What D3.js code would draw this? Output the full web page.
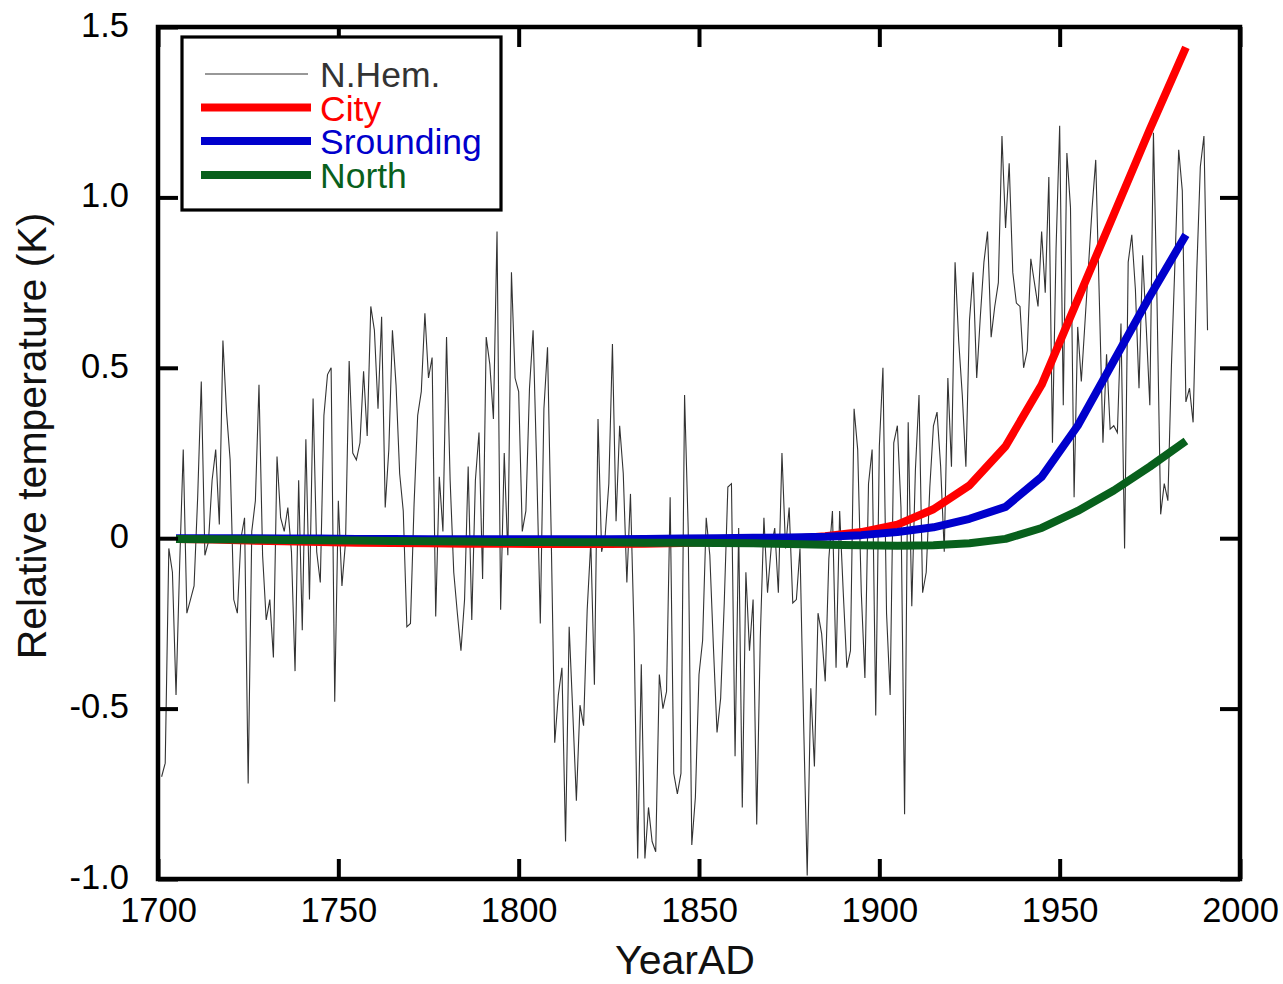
<!DOCTYPE html>
<html>
<head>
<meta charset="utf-8">
<script src="https://cdn.jsdelivr.net/npm/d3@7"></script>
<style>
  body { margin: 0; background: #fff; }
  svg { display: block; font-family: "Liberation Sans", Arial, sans-serif; }
</style>
</head>
<body>
<div id="chart"></div>
<script>
// N.Hem. annual anomalies, 1701..1991
const nhemStart = 1701;
const nhemValues = [
  -0.70, -0.66, -0.03, -0.10, -0.46, -0.08, 0.26, -0.22, -0.18, -0.14,
  0.12, 0.46, -0.05, -0.01, 0.17, 0.26, 0.04, 0.58, 0.37, 0.23,
  -0.18, -0.22, 0.00, 0.06, -0.72, 0.02, 0.11, 0.45, -0.05, -0.24,
  -0.18, -0.35, 0.24, 0.06, 0.02, 0.09, -0.04, -0.39, 0.17, -0.27,
  0.29, -0.18, 0.41, -0.04, -0.13, 0.36, 0.48, 0.50, -0.48, 0.11,
  -0.14, -0.01, 0.52, 0.25, 0.23, 0.28, 0.49, 0.30, 0.68, 0.61,
  0.38, 0.65, 0.09, 0.26, 0.61, 0.45, 0.19, 0.08, -0.26, -0.25,
  0.10, 0.36, 0.43, 0.66, 0.47, 0.53, -0.23, 0.18, 0.02, 0.59,
  0.17, -0.10, -0.22, -0.33, -0.18, 0.21, -0.24, 0.17, 0.31, -0.12,
  0.59, 0.51, 0.35, 0.90, -0.21, 0.25, -0.05, 0.78, 0.47, 0.43,
  0.02, 0.08, 0.44, 0.61, 0.21, -0.25, 0.38, 0.56, 0.02, -0.60,
  -0.46, -0.38, -0.89, -0.26, -0.51, -0.77, -0.49, -0.55, -0.21, -0.01,
  -0.43, 0.35, -0.04, 0.01, 0.16, 0.57, 0.05, 0.33, 0.19, -0.13,
  0.13, -0.28, -0.94, -0.37, -0.94, -0.79, -0.89, -0.92, -0.40, -0.50,
  -0.45, 0.12, -0.69, -0.75, -0.69, 0.42, 0.03, -0.90, -0.76, -0.40,
  -0.30, 0.06, -0.05, -0.32, -0.57, -0.47, -0.19, 0.15, 0.16, -0.64,
  0.03, -0.79, -0.10, -0.33, -0.18, -0.84, -0.29, 0.06, -0.16, -0.03,
  0.03, -0.16, 0.25, -0.03, 0.09, -0.19, -0.18, -0.03, -0.54, -0.99,
  -0.44, -0.67, -0.22, -0.28, -0.42, -0.06, 0.08, -0.38, 0.08, -0.16,
  -0.38, -0.33, 0.38, 0.26, -0.16, -0.41, 0.16, 0.26, -0.52, 0.27,
  0.50, -0.22, -0.46, 0.28, 0.33, 0.09, -0.81, 0.34, -0.20, 0.20,
  0.42, -0.16, -0.10, 0.15, 0.33, 0.37, 0.21, -0.04, 0.47, 0.21,
  0.81, 0.58, 0.42, 0.21, 0.64, 0.78, 0.47, 0.65, 0.81, 0.90,
  0.59, 0.68, 0.75, 1.18, 0.91, 1.10, 0.78, 0.69, 0.68, 0.50,
  0.55, 0.82, 0.75, 0.68, 0.90, 0.72, 1.06, 0.28, 0.85, 1.21,
  0.39, 1.13, 0.97, 0.12, 0.62, 0.46, 0.63, 0.80, 0.97, 1.11,
  0.70, 0.28, 0.54, 0.32, 0.33, 0.31, 0.63, -0.03, 0.81, 0.89,
  0.73, 0.44, 0.83, 0.62, 0.39, 1.19, 0.69, 0.07, 0.16, 0.11,
  0.51, 0.82, 1.14, 1.02, 0.40, 0.44, 0.34, 0.78, 1.09, 1.18,
  0.61
];
const nhemYears = nhemValues.map((_, i) => nhemStart + i);

// smooth model curves, one point per decade
const curveYears = [1705, 1715, 1725, 1735, 1745, 1755, 1765, 1775, 1785, 1795,
  1805, 1815, 1825, 1835, 1845, 1855, 1865, 1875, 1885, 1895,
  1905, 1915, 1925, 1935, 1945, 1955, 1965, 1975, 1985];
const cityValues = [-0.002, -0.004, -0.007, -0.009, -0.011, -0.013, -0.014, -0.015, -0.016, -0.016,
  -0.017, -0.017, -0.017, -0.016, -0.014, -0.011, -0.007, -0.002, 0.006, 0.018,
  0.040, 0.085, 0.155, 0.27, 0.45, 0.70, 0.95, 1.20, 1.44];
const sroundingValues = [0.000, 0.000, 0.000, -0.001, -0.001, -0.002, -0.002, -0.003, -0.003, -0.003,
  -0.003, -0.003, -0.003, -0.002, -0.001, 0.000, 0.001, 0.002, 0.004, 0.009,
  0.018, 0.032, 0.057, 0.092, 0.18, 0.33, 0.52, 0.71, 0.89];
const northValues = [-0.002, -0.003, -0.004, -0.005, -0.006, -0.007, -0.008, -0.009, -0.010, -0.011,
  -0.011, -0.012, -0.012, -0.013, -0.013, -0.014, -0.015, -0.017, -0.019, -0.021,
  -0.022, -0.021, -0.015, -0.002, 0.030, 0.080, 0.140, 0.210, 0.285];

const xTicks = [1700, 1750, 1800, 1850, 1900, 1950, 2000];
const yTicks = [-1.0, -0.5, 0, 0.5, 1.0, 1.5];
const yTickLabels = ['-1.0', '-0.5', '0', '0.5', '1.0', '1.5'];

const legendLabels = ['N.Hem.', 'City', 'Srounding', 'North'];
const legendColors = ['#333333', '#ff0000', '#0000cc', '#08601c'];
const legendTextColors = ['#333333', '#ff0000', '#0000cc', '#08601c'];

const W = 1283, H = 984;
const plot = {left: 158, right: 1240, top: 27, bottom: 879};

const svg = d3.select('#chart').append('svg')
  .attr('width', W).attr('height', H);
svg.append('rect').attr('width', W).attr('height', H).attr('fill', '#fff');

const x = d3.scaleLinear().domain([1700, 2000]).range([plot.left, plot.right]);
const y = d3.scaleLinear().domain([-1.0, 1.5]).range([plot.bottom, plot.top]);

// data lines
const nhem = nhemYears.map((yr, i) => [yr, nhemValues[i]]);
const line = d3.line().x(d => x(d[0])).y(d => y(d[1]));

svg.append('path')
  .datum(nhem)
  .attr('d', line)
  .attr('fill', 'none')
  .attr('stroke', '#333')
  .attr('stroke-width', 1.1)
  .attr('stroke-linejoin', 'miter');

const curves = [
  {vals: cityValues, color: legendColors[1]},
  {vals: sroundingValues, color: legendColors[2]},
  {vals: northValues, color: legendColors[3]},
];
curves.forEach(c => {
  svg.append('path')
    .datum(curveYears.map((yr, i) => [yr, c.vals[i]]))
    .attr('d', line)
    .attr('fill', 'none')
    .attr('stroke', c.color)
    .attr('stroke-width', 8)
    .attr('stroke-linecap', 'butt')
    .attr('stroke-linejoin', 'round');
});

// axes, ticks pointing inward
const tickLen = 20;
const styleAxis = g => {
  g.select('.domain').remove();
  g.selectAll('.tick line').attr('stroke', '#000').attr('stroke-width', 4);
};

svg.append('g')
  .attr('transform', `translate(0,${plot.bottom})`)
  .call(d3.axisBottom(x).tickValues(xTicks).tickFormat(d3.format('d'))
    .tickSizeInner(-tickLen).tickSizeOuter(0).tickPadding(19))
  .call(styleAxis)
  .call(g => g.selectAll('text').attr('font-size', 34.5).attr('fill', '#000')
    .attr('font-family', '"Liberation Sans", Arial, sans-serif'));

svg.append('g')
  .attr('transform', `translate(0,${plot.top})`)
  .call(d3.axisTop(x).tickValues(xTicks).tickFormat('')
    .tickSizeInner(-tickLen).tickSizeOuter(0))
  .call(styleAxis);

svg.append('g')
  .attr('transform', `translate(${plot.left},0)`)
  .call(d3.axisLeft(y).tickValues(yTicks).tickFormat((d, i) => yTickLabels[i])
    .tickSizeInner(-tickLen).tickSizeOuter(0).tickPadding(29))
  .call(styleAxis)
  .call(g => g.selectAll('text').attr('font-size', 34.5).attr('fill', '#000')
    .attr('dy', '0.27em')
    .attr('font-family', '"Liberation Sans", Arial, sans-serif'));

svg.append('g')
  .attr('transform', `translate(${plot.right},0)`)
  .call(d3.axisRight(y).tickValues(yTicks).tickFormat('')
    .tickSizeInner(-tickLen).tickSizeOuter(0))
  .call(styleAxis);

// frame
svg.append('rect')
  .attr('x', plot.left).attr('y', plot.top)
  .attr('width', plot.right - plot.left).attr('height', plot.bottom - plot.top)
  .attr('fill', 'none').attr('stroke', '#000').attr('stroke-width', 4.5);

// axis titles
svg.append('text')
  .attr('x', 685).attr('y', 974)
  .attr('text-anchor', 'middle')
  .attr('font-size', 41)
  .attr('fill', '#111')
  .text('YearAD');

svg.append('text')
  .attr('transform', 'translate(46,436) rotate(-90)')
  .attr('text-anchor', 'middle')
  .attr('font-size', 41)
  .attr('fill', '#111')
  .text('Relative temperature (K)');

// legend
const legend = svg.append('g');
legend.append('rect')
  .attr('x', 182).attr('y', 37).attr('width', 319).attr('height', 173)
  .attr('fill', '#fff').attr('stroke', '#000').attr('stroke-width', 3.2);

const rowY = [74, 107.5, 141, 175];
legendLabels.forEach((lab, i) => {
  legend.append('line')
    .attr('x1', i === 0 ? 205 : 201).attr('x2', i === 0 ? 308 : 311)
    .attr('y1', rowY[i]).attr('y2', rowY[i])
    .attr('stroke', legendColors[i])
    .attr('stroke-width', i === 0 ? 1.2 : 8);
  legend.append('text')
    .attr('x', 320).attr('y', rowY[i] + 13)
    .attr('font-size', 35.5)
    .attr('fill', legendTextColors[i])
    .text(lab);
});
</script>
</body>
</html>
